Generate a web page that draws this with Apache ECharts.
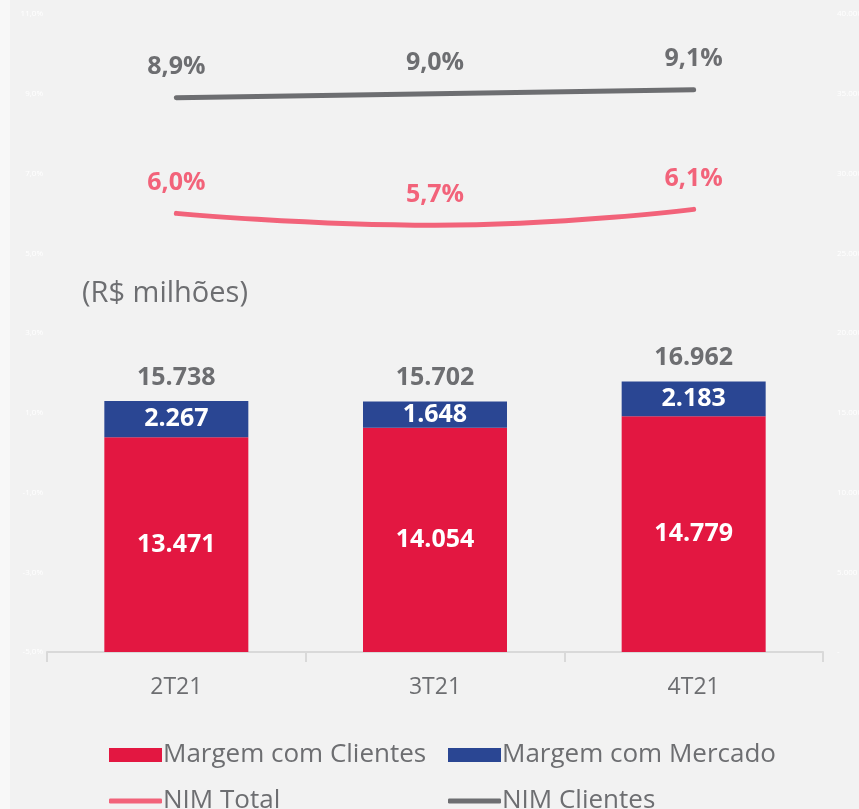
<!DOCTYPE html>
<html>
<head>
<meta charset="utf-8">
<script src="https://cdn.jsdelivr.net/npm/echarts@6/dist/echarts.min.js"></script>
<style>
  html, body { margin: 0; padding: 0; background: #f8f8f8; }
  #main { position: absolute; left: 10px; top: 0; width: 849px; height: 809px; background: #f2f2f2; }
</style>
</head>
<body>
<div id="main"></div>
<script>
var categories = ["2T21", "3T21", "4T21"];
var margemClientes = [13471, 14054, 14779];
var margemMercado = [2267, 1648, 2183];
var totais = [15738, 15702, 16962];
var nimTotal = [6.0, 5.7, 6.1];
var nimClientes = [8.9, 9.0, 9.1];

var fmtNum = function (v) {
  return String(v).replace(/\B(?=(\d{3})+(?!\d))/g, ".");
};
var fmtPct = function (v) {
  return v.toFixed(1).replace(".", ",") + "%";
};

var FONT = "Open Sans";
var GREY = "#6d6e71";
var PINK = "#f2637a";

// one legend per item so the two columns line up like the original
function legendItem(name, left, top, icon, h) {
  return {
    data: [{ name: name, icon: icon }],
    left: left,
    top: top,
    itemWidth: 53,
    itemHeight: h,
    textStyle: { fontSize: 26, color: GREY, fontFamily: FONT, padding: [0, 0, 0, -4] },
  };
}

var myChart = echarts.init(document.getElementById("main"));
myChart.setOption({
  backgroundColor: "#f2f2f2",
  textStyle: { fontFamily: FONT },
  animation: false,
  grid: {
    left: 37,
    right: 36,
    top: 14,
    bottom: 157,
    outerBoundsMode: "none",
  },
  graphic: [
    {
      type: "text",
      left: 72,
      top: 279,
      style: {
        text: "(R$ milhões)",
        fontSize: 29,
        fontFamily: FONT,
        fill: GREY,
      },
    },
  ],
  legend: [
    legendItem("Margem com Clientes", 94, 737, "rect", 14),
    legendItem("Margem com Mercado", 433, 737, "rect", 14),
    legendItem("NIM Total", 94, 783, "roundRect", 5),
    legendItem("NIM Clientes", 433, 783, "roundRect", 5),
  ],
  xAxis: {
    type: "category",
    data: categories,
    axisLine: { onZero: false, lineStyle: { color: "#d9d9d9", width: 2 } },
    axisTick: { show: true, length: 10, lineStyle: { color: "#d9d9d9", width: 2 } },
    axisLabel: { fontSize: 23, color: GREY, margin: 24 },
  },
  yAxis: [
    {
      type: "value",
      min: -5,
      max: 11,
      interval: 2,
      splitLine: { show: false },
      axisLine: { show: false },
      axisLabel: {
        fontSize: 8,
        color: "#ffffff",
        margin: 4,
        formatter: function (v) { return fmtPct(v); },
      },
    },
    {
      type: "value",
      min: 0,
      max: 40000,
      interval: 5000,
      splitLine: { show: false },
      axisLine: { show: false },
      axisLabel: {
        fontSize: 8,
        color: "#ffffff",
        margin: 14,
        formatter: function (v) { return v === 0 ? "-" : fmtNum(v); },
      },
    },
  ],
  series: [
    {
      name: "Margem com Clientes",
      type: "bar",
      stack: "margem",
      yAxisIndex: 1,
      barWidth: 144,
      data: margemClientes,
      itemStyle: { color: "#e31741" },
      label: {
        show: true,
        position: "inside",
        fontSize: 25,
        fontWeight: "bold",
        color: "#ffffff",
        formatter: function (p) { return fmtNum(p.value); },
      },
    },
    {
      name: "Margem com Mercado",
      type: "bar",
      stack: "margem",
      yAxisIndex: 1,
      barWidth: 144,
      data: margemMercado,
      itemStyle: { color: "#2a4693" },
      label: {
        show: true,
        position: "inside",
        fontSize: 25,
        fontWeight: "bold",
        color: "#ffffff",
        formatter: function (p) { return fmtNum(p.value); },
      },
    },
    {
      name: "Total",
      type: "bar",
      stack: "margem",
      yAxisIndex: 1,
      barWidth: 144,
      data: [0, 0, 0],
      itemStyle: { color: "transparent" },
      label: {
        show: true,
        position: "top",
        distance: 11,
        fontSize: 25,
        fontWeight: "bold",
        color: GREY,
        formatter: function (p) { return fmtNum(totais[p.dataIndex]); },
      },
    },
    {
      name: "NIM Total",
      type: "line",
      yAxisIndex: 0,
      smooth: true,
      symbol: "circle",
      symbolSize: 0,
      showSymbol: true,
      data: nimTotal,
      itemStyle: { color: PINK },
      lineStyle: { color: PINK, width: 5, cap: "round" },
      label: {
        show: true,
        position: "top",
        distance: 18,
        fontSize: 25,
        fontWeight: "bold",
        color: PINK,
        formatter: function (p) { return fmtPct(p.value); },
      },
    },
    {
      name: "NIM Clientes",
      type: "line",
      yAxisIndex: 0,
      smooth: true,
      symbol: "circle",
      symbolSize: 0,
      showSymbol: true,
      data: nimClientes,
      itemStyle: { color: GREY },
      lineStyle: { color: GREY, width: 5, cap: "round" },
      label: {
        show: true,
        position: "top",
        distance: 18,
        fontSize: 25,
        fontWeight: "bold",
        color: GREY,
        formatter: function (p) { return fmtPct(p.value); },
      },
    },
  ],
});
</script>
</body>
</html>
